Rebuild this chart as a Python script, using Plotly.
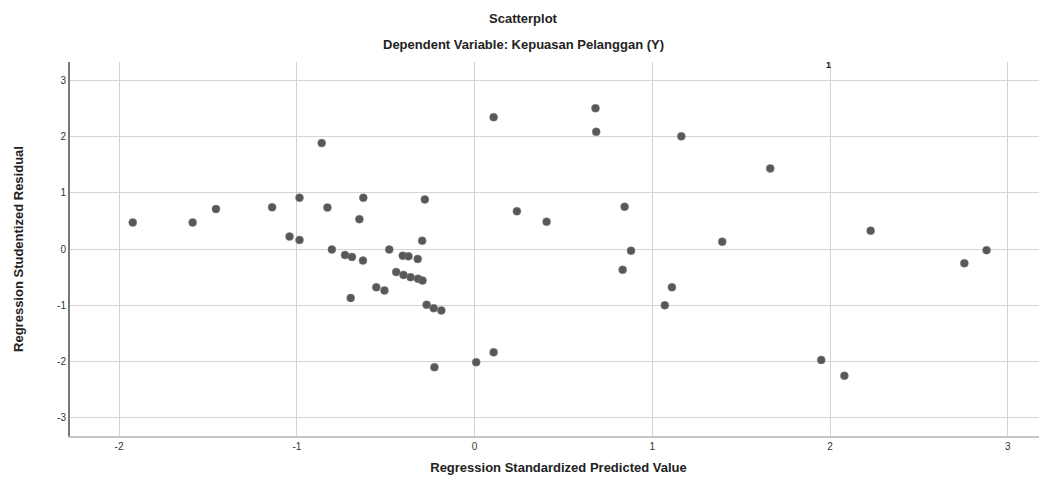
import plotly.graph_objects as go

# Regression standardized predicted value (x) and studentized residual (y)
pred = [-1.923, -1.586, -1.455, -1.139, -0.985, -1.041, -0.985, -0.86, -0.828, -0.626,
        -0.648, -0.28, -0.295, -0.803, -0.729, -0.69, -0.628, -0.48, -0.404, -0.372,
        -0.32, -0.441, -0.40, -0.36, -0.318, -0.293, -0.553, -0.507, -0.697, -0.27,
        -0.23, -0.187, -0.226, 0.009, 0.107, 0.107,
        0.68, 0.684, 1.163, 1.663, 0.238, 0.405, 0.844, 0.88, 0.833, 1.393,
        1.11, 1.07, 2.228, 2.755, 2.88, 1.95, 2.08]
resid = [0.47, 0.47, 0.71, 0.74, 0.91, 0.22, 0.16, 1.88, 0.735, 0.91,
         0.53, 0.88, 0.147, -0.01, -0.106, -0.14, -0.206, -0.01, -0.118, -0.13,
         -0.176, -0.41, -0.46, -0.5, -0.53, -0.56, -0.68, -0.735, -0.87, -0.99,
         -1.05, -1.09, -2.1, -2.01, -1.835, 2.34,
         2.5, 2.08, 2.0, 1.43, 0.67, 0.485, 0.75, -0.03, -0.37, 0.13,
         -0.68, -1.0, 0.325, -0.255, -0.02, -1.97, -2.25]

x_ticks = [-2, -1, 0, 1, 2, 3]
y_ticks = [-3, -2, -1, 0, 1, 2, 3]

title = "Scatterplot"
subtitle = "Dependent Variable: Kepuasan Pelanggan (Y)"
x_title = "Regression Standardized Predicted Value"
y_title = "Regression Studentized Residual"

font = "Liberation Sans, Arial, sans-serif"

# page has an 8px body margin, so the figure is sized to fit the window
W, H = 1039, 482
ML, MR, MT, MB = 62, 0, 54, 54
plot_w = W - ML - MR
plot_h = H - MT - MB


def px_x(px):
    return (px - ML) / plot_w


def px_y(py):
    return 1 - (py - MT) / plot_h


fig = go.Figure()
fig.add_trace(go.Scatter(
    x=pred, y=resid, mode="markers",
    marker=dict(size=8, color="#585858", line=dict(width=1, color="rgba(130,130,130,0.5)")),
    showlegend=False, hoverinfo="x+y",
))

fig.update_layout(
    width=W, height=H,
    margin=dict(l=ML, r=MR, t=MT, b=MB),
    paper_bgcolor="white", plot_bgcolor="white",
    font=dict(family=font, color="#222222"),
    xaxis=dict(
        range=[-2.276, 3.22], tickvals=x_ticks, ticktext=[str(v) for v in x_ticks],
        showgrid=True, gridcolor="#d4d4d4", gridwidth=1.2, zeroline=False,
        showline=True, linecolor="#c4c4c4", linewidth=2, automargin=False,
        ticks="", tickfont=dict(size=10, color="#333333"),
        title=dict(text="<b>" + x_title + "</b>", font=dict(size=13, color="#222222"), standoff=12),
    ),
    yaxis=dict(
        range=[-3.32, 3.32], tickvals=y_ticks, ticktext=[str(v) for v in y_ticks],
        showgrid=True, gridcolor="#d4d4d4", gridwidth=1.2, zeroline=False,
        showline=True, linecolor="#777777", linewidth=2, automargin=False,
        ticks="", tickfont=dict(size=10, color="#333333"),
        title=dict(text="<b>" + y_title + "</b>", font=dict(size=13, color="#222222"), standoff=31),
    ),
    annotations=[
        dict(text="<b>" + title + "</b>", x=px_x(523.5 - 8), y=px_y(19 - 8),
             xref="paper", yref="paper", yanchor="middle",
             showarrow=False, font=dict(size=13, color="#222222")),
        dict(text="<b>" + subtitle + "</b>", x=px_x(523.5 - 8), y=px_y(44 - 8),
             xref="paper", yref="paper", yanchor="middle",
             showarrow=False, font=dict(size=13, color="#222222")),
        dict(text="<b>1</b>", x=px_x(833 - 8), y=px_y(65 - 8),
             xref="paper", yref="paper", yanchor="middle",
             showarrow=False, font=dict(size=9, color="#111111")),
    ],
)

fig.write_html("out.html")
